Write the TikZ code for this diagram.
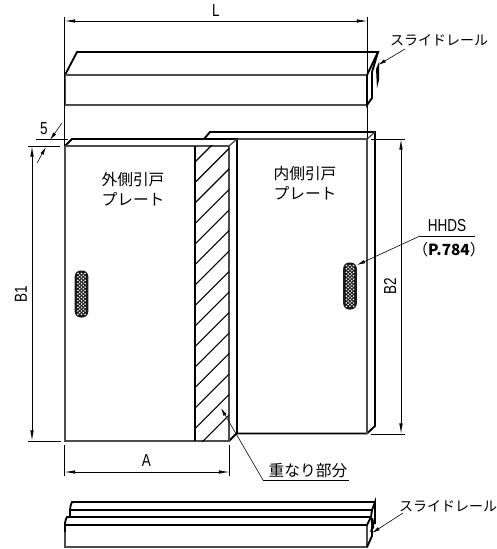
\documentclass[tikz,border=0pt]{standalone}
\usepackage{fontspec}
\setmainfont{Noto Sans CJK JP}
\newfontfamily\latinfont[FakeStretch=0.78]{Liberation Sans}
\usetikzlibrary{arrows.meta, positioning}

\definecolor{facegray}{gray}{0.3}

\tikzset{
  thickline/.style={line width=1.4pt, black},
  faceline/.style={line width=0.95pt, facegray},
  thinline/.style={line width=0.55pt, black},
  dimline/.style={line width=0.55pt, black, {Latex[length=8pt,width=2.6pt]}-{Latex[length=8pt,width=2.6pt]}},
  leaderline/.style={line width=0.45pt, black, -{Latex[length=6pt,width=2.6pt]}},
  hatchline/.style={line width=0.8pt, black},
  jplabel/.style={font=\fontsize{11.8pt}{15pt}\selectfont, inner sep=0pt, align=center},
  raillabel/.style={font=\fontsize{10.5pt}{14pt}\selectfont, inner sep=0pt},
  dimlabel/.style={font=\latinfont\fontsize{13pt}{15pt}\selectfont, inner sep=0pt},
  pics/slotmark/.style={code={
    \fill[black!90, rounded corners=4.5pt] (-6.8,-23.5) rectangle (6.8,23.5);
    \foreach \row in {0,...,12} {
      \foreach \col in {-1,0,1} {
        \fill[white] ({\col*3.6},{-20.5+\row*3.4}) circle[radius=0.65pt];
      }
    }
    \foreach \row in {0,...,11} {
      \foreach \col in {-0.5,0.5} {
        \fill[white] ({\col*3.6},{-18.8+\row*3.4}) circle[radius=0.65pt];
      }
    }
  }}
}

\begin{document}
\begin{tikzpicture}[x=0.75pt, y=-0.75pt, >=latex]
\useasboundingbox (0,0) rectangle (496,549);

% top rail
\draw[thickline] (65,75) -- (77,52) -- (378,52) -- (367,75);
\draw[faceline] (65,75) rectangle (367,105);
\draw[thickline] (367,75) -- (367,105) -- (372,98) -- (372,72) -- (378,52);
\fill[black] (376,69) -- (379,62) -- (379,80) -- (377,88) -- cycle;

% inner plate
\draw[thickline] (204,139) -- (210,132) -- (375,132) -- (375,426) -- (367,433.5) -- (237,433.5);
\draw[faceline] (237,139) -- (367,139) -- (367,433.5);
\draw[faceline] (367,139) -- (375,132);

% outer plate
\fill[white] (65,146) -- (72,139) -- (237,139) -- (237,434) -- (229,441) -- (65,441) -- cycle;
\draw[thickline] (65,146) -- (72,139) -- (237,139) -- (237,433) -- (229,441);
\draw[faceline] (229,146) -- (237,139);
\draw[faceline] (65,146) rectangle (229,441);

% overlap hatching
\begin{scope}
\clip (195,146) rectangle (229,441);
\foreach \k in {0,...,14} {
  \draw[hatchline] ({644-\k*20.5-441-60},501) -- ++(400,-400);
}
\end{scope}
\draw[thickline] (195,146) -- (195,441);

% slots
\pic at (81.5,294) {slotmark};
\pic at (350,286) {slotmark};
\coordinate (slot-in) at (357,265);

% bottom rail
\draw[faceline] (65,525) rectangle (367,547);
\draw[thickline] (65,532) -- (65,525) .. controls (65,521) and (66,519) .. (67,517) -- (371,517);
\draw[thickline] (70,517) -- (70,510) -- (372,510);
\draw[thickline] (70,510) .. controls (70,507) and (71,504) .. (72,502) -- (375,502);
\draw[thickline] (65,525) -- (367,525) -- (371,517) -- (372,510) -- (375,502) -- (375,524);
\draw[thickline] (367,547) -- (372,536) -- (372,518);
\fill[black] (370,532) -- (374,518) -- (374,528) -- cycle;

% dimension L
\coordinate (l-left) at (64.5,21);
\coordinate (l-right) at (367.5,21);
\draw[thinline] (64.5,17) -- (64.5,146);
\draw[thinline] (367.5,17) -- (367.5,139);
\draw[dimline] (l-left) -- (l-right);
\node[dimlabel] (l-label) at (216,11) {L};

% dimension 5
\coordinate (five-a) at (62,123);
\coordinate (five-b) at (50,140);
\coordinate (five-c) at (37,163);
\coordinate (five-d) at (46,147);
\draw[thinline] (36,139) -- (68,139);
\draw[thinline] (28,146) -- (60,146);
\draw[leaderline] (five-a) -- (five-b);
\draw[leaderline] (five-c) -- (five-d);
\node[dimlabel] (five-label) at (44,129) {5};

% dimension B1
\coordinate (b1-top) at (32,146);
\coordinate (b1-bottom) at (32,441);
\draw[thinline] (28,441) -- (61,441);
\draw[dimline] (b1-top) -- (b1-bottom);
\node[dimlabel, rotate=90] (b1-label) at (21,294) {B1};

% dimension A
\coordinate (a-left) at (64.5,472);
\coordinate (a-right) at (229.5,472);
\draw[thinline] (64.5,445) -- (64.5,476);
\draw[thinline] (229.5,445) -- (229.5,476);
\draw[dimline] (a-left) -- (a-right);
\node[dimlabel] (a-label) at (146.5,461) {A};

% dimension B2
\coordinate (b2-top) at (401,139);
\coordinate (b2-bottom) at (401,434);
\draw[thinline] (371,139) -- (405,139);
\draw[thinline] (371,434) -- (405,434);
\draw[dimline] (b2-top) -- (b2-bottom);
\node[dimlabel, rotate=90] (b2-label) at (390,286) {B2};

% plate labels
\node[jplabel] (outer-label) at (133,189) {外側引戸\\プレート};
\node[jplabel] (inner-label) at (305,183) {内側引戸\\プレート};

% slide rail labels
\node[raillabel] (rail-top) at (439,40) {スライドレール};
\coordinate (rail-top-tip) at (378,65);
\coordinate (rail-top-end) at (405,49);
\draw[leaderline] (rail-top-end) -- (rail-top-tip);

\node[raillabel] (rail-bottom) at (448,506) {スライドレール};
\coordinate (rail-bottom-tip) at (372,533);
\coordinate (rail-bottom-end) at (403,513);
\draw[leaderline] (rail-bottom-end) -- (rail-bottom-tip);

% overlap label
\node[jplabel] (overlap-label) at (308,471) {重なり部分};
\coordinate (overlap-knee) at (263,480);
\coordinate (overlap-end) at (349,480);
\coordinate (overlap-tip) at (221,408);
\draw[thinline] (overlap-end) -- (overlap-knee);
\draw[leaderline] (overlap-knee) -- (overlap-tip);

% HHDS label
\node[dimlabel] (hhds-label) at (447,226) {HHDS};
\node[raillabel, font=\fontsize{11.5pt}{14pt}\selectfont] (page-label) at (449,250) {（\textbf{P.784}）};
\coordinate (hhds-knee) at (420,236);
\coordinate (hhds-end) at (475,236);
\draw[thinline] (hhds-end) -- (hhds-knee);
\draw[leaderline] (hhds-knee) -- (slot-in);

\end{tikzpicture}
\end{document}
